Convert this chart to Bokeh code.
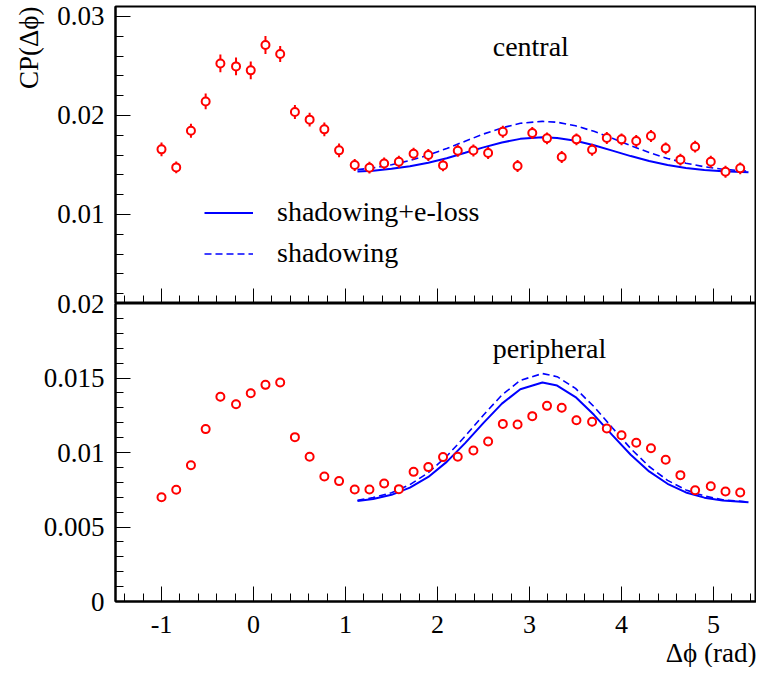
from bokeh.plotting import figure
from bokeh.models import (ColumnDataSource, FixedTicker, Label, Legend,
                          LegendItem, Range1d, Title)
from bokeh.layouts import column
from bokeh.embed import file_html
from bokeh.resources import INLINE

# ---------------- data ----------------
dphi = [-1.00, -0.84, -0.68, -0.52, -0.36, -0.19, -0.03, 0.13, 0.29, 0.45,
        0.61, 0.77, 0.93, 1.10, 1.26, 1.42, 1.58, 1.74, 1.90, 2.06,
        2.22, 2.39, 2.55, 2.71, 2.87, 3.03, 3.19, 3.35, 3.51, 3.68,
        3.84, 4.00, 4.16, 4.32, 4.48, 4.64, 4.80, 4.97, 5.13, 5.29]

central_cp = [0.01657, 0.01475, 0.01845, 0.02141, 0.02525, 0.02495, 0.02455, 0.02711, 0.02620, 0.02034,
              0.01957, 0.01859, 0.01647, 0.01499, 0.01472, 0.01515, 0.01532, 0.01613, 0.01600, 0.01495,
              0.01643, 0.01646, 0.01620, 0.01835, 0.01489, 0.01822, 0.01768, 0.01580, 0.01758, 0.01653,
              0.01772, 0.01758, 0.01741, 0.01792, 0.01667, 0.01553, 0.01684, 0.01532, 0.01431, 0.01465]
central_err = [0.0007, 0.0006, 0.0007, 0.0008, 0.0009, 0.0009, 0.0009, 0.0009, 0.0008, 0.0007,
               0.0007, 0.0007, 0.0007, 0.0006, 0.0006, 0.0006, 0.0006, 0.0006, 0.0006, 0.0006,
               0.0006, 0.0006, 0.0006, 0.0006, 0.0006, 0.0006, 0.0006, 0.0006, 0.0006, 0.0006,
               0.0006, 0.0006, 0.0006, 0.0006, 0.0006, 0.0006, 0.0006, 0.0006, 0.0006, 0.0006]

periph_cp = [0.00700, 0.00750, 0.00915, 0.01157, 0.01374, 0.01324, 0.01398, 0.01454, 0.01470, 0.01103,
             0.00971, 0.00839, 0.00808, 0.00752, 0.00752, 0.00792, 0.00754, 0.00870, 0.00902, 0.00969,
             0.00971, 0.01013, 0.01074, 0.01192, 0.01188, 0.01244, 0.01313, 0.01300, 0.01217, 0.01206,
             0.01161, 0.01116, 0.01065, 0.01029, 0.00951, 0.00848, 0.00747, 0.00774, 0.00738, 0.00732]
periph_err = [0.0002, 0.0002, 0.0002, 0.0003, 0.0003, 0.0003, 0.0003, 0.0003, 0.0003, 0.0002,
              0.0002, 0.0002, 0.0002, 0.0002, 0.0002, 0.0002, 0.0002, 0.0002, 0.0002, 0.0002,
              0.0002, 0.0002, 0.0002, 0.0003, 0.0003, 0.0003, 0.0003, 0.0003, 0.0003, 0.0003,
              0.0002, 0.0002, 0.0002, 0.0002, 0.0002, 0.0002, 0.0002, 0.0002, 0.0002, 0.0002]

curve_x = [1.13, 1.3, 1.5, 1.7, 1.9, 2.1, 2.3, 2.5, 2.7, 2.9, 3.14,
           3.3, 3.5, 3.7, 3.9, 4.1, 4.3, 4.5, 4.7, 4.9, 5.1, 5.38]
central_eloss = [0.01433, 0.01442, 0.01460, 0.01486, 0.01522, 0.01568, 0.01622, 0.01677, 0.01727, 0.01763, 0.01780,
                 0.01772, 0.01744, 0.01698, 0.01644, 0.01589, 0.01539, 0.01499, 0.01469, 0.01448, 0.01435, 0.01426]
central_shadow = [0.01452, 0.01470, 0.01501, 0.01544, 0.01599, 0.01666, 0.01739, 0.01812, 0.01874, 0.01920, 0.01940,
                  0.01931, 0.01895, 0.01839, 0.01768, 0.01695, 0.01625, 0.01565, 0.01517, 0.01481, 0.01456, 0.01436]
periph_eloss = [0.00675, 0.00688, 0.00716, 0.00764, 0.00836, 0.00937, 0.01063, 0.01199, 0.01328, 0.01425, 0.01470,
                0.01449, 0.01372, 0.01253, 0.01117, 0.00985, 0.00873, 0.00790, 0.00732, 0.00697, 0.00678, 0.00666]
periph_shadow = [0.00680, 0.00697, 0.00730, 0.00784, 0.00865, 0.00975, 0.01109, 0.01252, 0.01386, 0.01484, 0.01530,
                 0.01509, 0.01430, 0.01308, 0.01166, 0.01026, 0.00906, 0.00813, 0.00749, 0.00708, 0.00683, 0.00668]

x_ticks = [-1, 0, 1, 2, 3, 4, 5]
x_tick_labels = ["-1", "0", "1", "2", "3", "4", "5"]
top_y_ticks = [0.01, 0.02, 0.03]
top_y_labels = ["0.01", "0.02", "0.03"]
bot_y_ticks = [0, 0.005, 0.01, 0.015, 0.02]
bot_y_labels = ["0", "0.005", "0.01", "0.015", "0.02"]
series_labels = ["shadowing+e-loss", "shadowing"]
panel_names = ["central", "peripheral"]
y_title = "CP(Δϕ)"
x_title = "Δϕ (rad)"

x_minor = [round(-1.4 + 0.2 * i, 1) for i in range(35)]
top_y_minor = [round(0.002 * i, 3) for i in range(1, 16)]
bot_y_minor = [round(0.001 * i, 3) for i in range(0, 21)]

FONT = "Liberation Serif"
RED = "#ff0000"
BLUE = "#0000ff"

x_range = Range1d(-1.5, 5.467)


def style_fig(p):
    p.grid.visible = False
    p.outline_line_color = "black"
    p.outline_line_width = 2
    p.background_fill_color = "white"


def style_axis(ax, ticks, minor, labels, size, standoff):
    ax.ticker = FixedTicker(ticks=ticks, minor_ticks=minor)
    ax.major_label_overrides = {t: l for t, l in zip(ticks, labels)}
    ax.major_tick_in = 15
    ax.major_tick_out = 0
    ax.minor_tick_in = 8
    ax.minor_tick_out = 0
    ax.major_tick_line_color = "black"
    ax.minor_tick_line_color = "black"
    ax.major_tick_line_width = 1
    ax.minor_tick_line_width = 1
    ax.axis_line_color = "black"
    ax.axis_line_width = 2
    ax.major_label_text_font = FONT
    ax.major_label_text_font_size = size
    ax.major_label_text_color = "black"
    ax.major_label_standoff = standoff


def add_points(p, ys, errs):
    src = ColumnDataSource(dict(
        x=dphi, y=ys,
        lo=[y - e for y, e in zip(ys, errs)],
        hi=[y + e for y, e in zip(ys, errs)]))
    p.segment(x0="x", y0="lo", x1="x", y1="hi", source=src,
              line_color=RED, line_width=2)
    p.scatter(x="x", y="y", source=src, marker="circle", size=8,
              line_color=RED, line_width=2, fill_color="white")


# ---------------- top panel (central) ----------------
top = figure(frame_width=641, frame_height=297, x_range=x_range,
             y_range=Range1d(0.001, 0.031), output_backend="svg",
             toolbar_location=None, min_border_left=115, min_border_right=0,
             min_border_top=6, min_border_bottom=0)
style_fig(top)
top.border_fill_color = "white"
style_axis(top.yaxis[0], top_y_ticks, top_y_minor, top_y_labels, "27px", 11)
style_axis(top.xaxis[0], x_ticks, x_minor, ["" for _ in x_ticks], "0px", 0)

src_c = ColumnDataSource(dict(x=curve_x, eloss=central_eloss, shadow=central_shadow))
r_c1 = top.line("x", "eloss", source=src_c, line_color=BLUE, line_width=2)
r_c2 = top.line("x", "shadow", source=src_c, line_color=BLUE, line_width=1.6,
                line_dash="7 4")
add_points(top, central_cp, central_err)

legend = Legend(items=[LegendItem(label=series_labels[0], renderers=[r_c1]),
                       LegendItem(label=series_labels[1], renderers=[r_c2])],
                location=(89, 34), orientation="vertical",
                glyph_width=49, glyph_height=31, label_height=31,
                label_standoff=24, spacing=9, padding=0, margin=0,
                border_line_color=None, background_fill_alpha=0,
                label_text_font=FONT, label_text_font_size="28px",
                label_text_color="black")
top.add_layout(legend)

top.add_layout(Label(x=2.6, y=0.0270, text=panel_names[0], text_font=FONT,
                     text_font_size="28px", text_color="black",
                     text_baseline="alphabetic", text_align="left"))
top.add_layout(Title(text=y_title, align="right", text_font=FONT,
                     text_font_size="27px", text_font_style="normal",
                     text_color="black", standoff=22), "left")

# ---------------- bottom panel (peripheral) ----------------
bot = figure(frame_width=641, frame_height=298, x_range=x_range,
             y_range=Range1d(0, 0.02), output_backend="svg",
             toolbar_location=None, min_border_left=115, min_border_right=0,
             min_border_top=14, min_border_bottom=20, margin=(-14, 0, 0, 0))
style_fig(bot)
bot.border_fill_color = None
style_axis(bot.yaxis[0], bot_y_ticks, bot_y_minor, bot_y_labels, "27px", 11)
style_axis(bot.xaxis[0], x_ticks, x_minor, x_tick_labels, "26px", 14)

src_p = ColumnDataSource(dict(x=curve_x, eloss=periph_eloss, shadow=periph_shadow))
bot.line("x", "eloss", source=src_p, line_color=BLUE, line_width=2)
bot.line("x", "shadow", source=src_p, line_color=BLUE, line_width=1.6,
         line_dash="7 4")
add_points(bot, periph_cp, periph_err)

bot.add_layout(Label(x=2.6, y=0.0170, text=panel_names[1], text_font=FONT,
                     text_font_size="28px", text_color="black",
                     text_baseline="alphabetic", text_align="left"))
bot.add_layout(Title(text=x_title, align="right", text_font=FONT,
                     text_font_size="27px", text_font_style="normal",
                     text_color="black", standoff=0), "below")

layout = column(top, bot, spacing=0)
open("out.html", "w").write(file_html(layout, INLINE))
